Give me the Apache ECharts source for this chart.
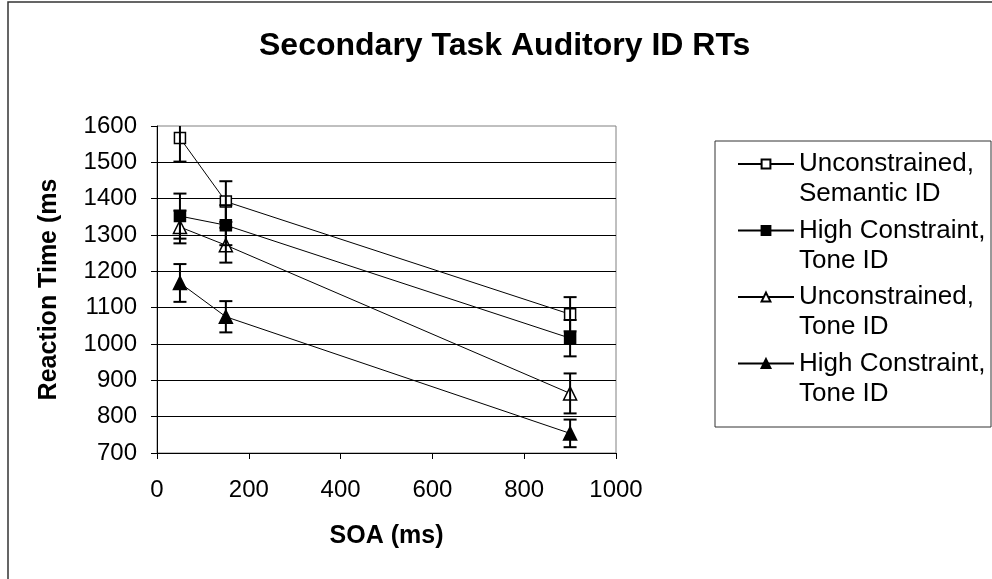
<!DOCTYPE html>
<html>
<head>
<meta charset="utf-8">
<script src="https://cdn.jsdelivr.net/npm/echarts@6/dist/echarts.min.js"></script>
<style>html,body{margin:0;padding:0;background:#fff}#c{width:992px;height:579px}</style>
</head>
<body>
<div id="c"></div>
<script>
// ---- data ----
const titleText = 'Secondary Task Auditory ID RTs';
const xName = 'SOA (ms)';
const yName = 'Reaction Time (ms';
const soa = [50, 150, 900];
const seriesNames = ['Unconstrained,\nSemantic ID', 'High Constraint,\nTone ID', 'Unconstrained,\nTone ID', 'High Constraint,\nTone ID '];
const uncSemantic = [1567, 1392, 1082];
const uncSemanticErr = [65, 56, 47];
const highTone = [1352, 1327, 1016];
const highToneErr = [62, 55, 50];
const uncTone = [1322, 1272, 864];
const uncToneErr = [45, 48, 55];
const highTone2 = [1168, 1075, 754];
const highTone2Err = [52, 43, 38];

const FONT = 'Liberation Sans, Arial, sans-serif';
const means = [uncSemantic, highTone, uncTone, highTone2];
const errs = [uncSemanticErr, highToneErr, uncToneErr, highTone2Err];
const symbols = ['rect', 'rect', 'triangle', 'triangle'];
const sizes = [11, 11, 13, 13];
const fills = ['#ffffff', '#000000', '#ffffff', '#000000'];

const chart = echarts.init(document.getElementById('c'));

const lineSeries = means.map((m, i) => ({
  name: seriesNames[i],
  type: 'line',
  data: soa.map((x, j) => [x, m[j]]),
  symbol: symbols[i],
  symbolSize: sizes[i],
  showAllSymbol: true,
  lineStyle: { color: '#000', width: 1 },
  itemStyle: { color: fills[i], borderColor: '#000', borderWidth: 1.5 },
  emphasis: { disabled: true },
  z: 3
}));

const errData = [];
means.forEach((m, i) => {
  soa.forEach((x, j) => {
    errData.push([x, m[j] - errs[i][j], m[j] + errs[i][j]]);
  });
});

const errSeries = {
  type: 'custom',
  name: 'err',
  data: errData,
  clip: true,
  z: 4,
  silent: true,
  renderItem: function (params, api) {
    const x = api.value(0);
    const lo = api.coord([x, api.value(1)]);
    const hi = api.coord([x, api.value(2)]);
    const cap = 6.5;
    const style = { stroke: '#000', lineWidth: 2 };
    return {
      type: 'group',
      children: [
        { type: 'line', shape: { x1: lo[0], y1: lo[1], x2: hi[0], y2: hi[1] }, style: style },
        { type: 'line', shape: { x1: lo[0] - cap, y1: lo[1], x2: lo[0] + cap, y2: lo[1] }, style: style },
        { type: 'line', shape: { x1: hi[0] - cap, y1: hi[1], x2: hi[0] + cap, y2: hi[1] }, style: style }
      ]
    };
  }
};

chart.setOption({
  animation: false,
  backgroundColor: '#fff',
  textStyle: { fontFamily: FONT },
  title: {
    text: titleText,
    left: 254,
    top: 25,
    textStyle: { fontSize: 32, fontWeight: 'bold', color: '#000', fontFamily: FONT }
  },
  graphic: [
    { type: 'rect', shape: { x: 8, y: 2, width: 1100, height: 700 }, style: { fill: 'none', stroke: '#333', lineWidth: 1.5 }, z: -10, silent: true },
    { type: 'rect', shape: { x: 715, y: 141, width: 276, height: 286 }, style: { fill: 'none', stroke: '#333', lineWidth: 1 }, z: -10, silent: true }
  ],
  legend: {
    data: seriesNames,
    orient: 'vertical',
    left: 737,
    top: 119,
    padding: 0,
    itemWidth: 56,
    itemHeight: 11,
    itemGap: -23.5,
    selectedMode: false,
    formatter: function (name) { return '\n' + name.trim(); },
    textStyle: { fontSize: 26, lineHeight: 30, color: '#000', fontFamily: FONT }
  },
  grid: {
    left: 157, right: 376, top: 126, bottom: 126,
    show: true, borderColor: '#808080', borderWidth: 1, backgroundColor: '#fff'
  },
  xAxis: {
    type: 'value',
    min: 0, max: 1000, interval: 200,
    name: xName,
    nameLocation: 'middle',
    nameGap: 71,
    nameTextStyle: { fontSize: 25, fontWeight: 'bold', color: '#000', fontFamily: FONT },
    axisLine: { lineStyle: { color: '#000', width: 1 } },
    axisTick: { show: true, inside: false, length: 6, lineStyle: { color: '#000' } },
    axisLabel: { fontSize: 24, color: '#000', margin: 25, fontFamily: FONT, formatter: v => String(v) },
    splitLine: { show: false }
  },
  yAxis: {
    type: 'value',
    min: 700, max: 1600, interval: 100,
    name: yName,
    nameLocation: 'middle',
    nameGap: 95,
    nameRotate: 90,
    nameTextStyle: { fontSize: 25, fontWeight: 'bold', color: '#000', fontFamily: FONT },
    axisLine: { show: true, lineStyle: { color: '#000', width: 1 } },
    axisTick: { show: true, inside: false, length: 6, lineStyle: { color: '#000' } },
    axisLabel: { fontSize: 24, color: '#000', margin: 20, fontFamily: FONT, formatter: v => String(v) },
    splitLine: { show: true, showMaxLine: false, showMinLine: false, lineStyle: { color: '#000', width: 1 } }
  },
  series: lineSeries.concat([errSeries])
});
</script>
</body>
</html>
